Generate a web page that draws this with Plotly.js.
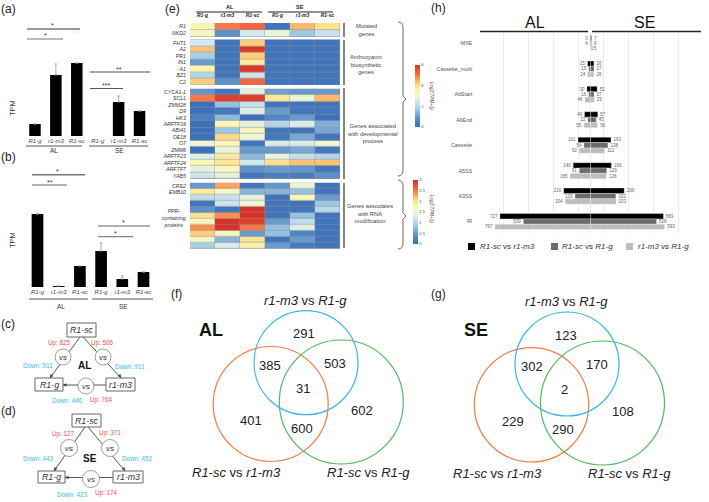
<!DOCTYPE html>
<html><head><meta charset="utf-8">
<script src="https://cdn.plot.ly/plotly-3.0.1.min.js"></script>
<style>html,body{margin:0;padding:0;background:#fff}#c{width:709px;height:502px}</style>
</head><body><div id="c"></div>
<script>
// ---------- data ----------
const barLabels = ['R1-g','r1-m3','R1-sc','R1-g','r1-m3','R1-sc'];
const tpmA = [12,61,73,null,34,25];
const errA = [null,11,null,null,6,null];
const tpmB = [73,1,21,36,8,15];
const errB = [null,null,null,8,3,null];

const heatCols = ['R1-g','r1-m3','R1-sc','R1-g','r1-m3','R1-sc'];
const rowsMut = ['R1','NKD2'];
const heatMut = [[3.4,5.0,5.2,0.2,4.4,4.0],[3.2,0.8,2.5,2.9,1.7,2.3]];
const rowsAnt = ['FHT1','A2','PR1','IN1','A1','BZ1','C2'];
const heatAnt = [[2.5,0.2,4.2,0.2,0.2,0.2],[4.3,0.2,5.9,0.2,0.2,0.2],[1.8,0.2,4.2,0.2,0.2,0.2],[1.0,0.2,3.8,0.2,0.2,0.2],[3.5,0.2,5.9,0.2,0.2,0.2],[2.0,0.2,2.4,0.2,0.2,0.2],[4.2,0.8,5.2,0.2,0.2,0.2]];
const rowsDev = ['CYCA1-1','SCL1','ZMM28','D9','HK3','ARFTF19','ABI41','OE18','O7','ZMM6','ARFTF23','ARFTF24','ARFTF7','YAB5'];
const heatDev = [[0.9,0.3,2.8,1.1,1.0,1.0],[5.0,5.8,5.8,3.8,2.9,4.4],[0.1,1.6,2.3,0.2,0.2,0.2],[0.1,0.3,2.7,1.0,0.2,0.2],[0.5,1.5,0.1,0.6,1.0,0.1],[0.1,3.4,2.8,2.0,2.6,1.3],[0.1,1.7,3.3,0.2,0.2,1.2],[0.1,4.1,2.9,0.3,1.2,0.2],[3.0,3.3,0.2,2.6,2.6,3.0],[0.1,2.9,1.0,1.0,1.2,0.3],[2.7,3.8,1.5,2.9,2.3,2.0],[3.4,3.9,2.5,4.0,4.3,4.3],[2.8,3.3,0.8,1.0,0.9,0.3],[2.4,2.8,0.2,0.5,0.4,0.8]];
const rowsRna = ['CRS2','EMB10','','','','','','','','',''];
const heatRna = [[0.5,2.3,0.1,0.45,1.45,0.1],[1.9,1.6,0.7,0.7,0.8,0.1],[1.1,1.15,1.4,0.1,1.7,0.5],[0.1,1.2,1.5,0.1,0.1,0.85],[0.4,0.1,3.0,0.1,0.1,1.05],[2.0,2.4,3.0,0.1,0.8,0.1],[1.6,3.0,2.9,0.5,1.1,0.1],[2.4,3.0,2.5,0.8,1.35,0.1],[2.1,1.6,0.5,0.8,0.3,0.1],[1.6,0.7,2.0,0.1,0.5,0.1],[0.9,1.3,1.8,0.5,0.2,0.1]];

const asTypes = ['MXE','Cassette_multi','AltStart','AltEnd','Cassette','A5SS','A3SS','IR'];
const seriesNames = ['R1-sc vs r1-m3','R1-sc vs R1-g','r1-m3 vs R1-g'];
const alScM3 = [3,25,30,49,101,140,216,727];
const alScG  = [4,15,16,22,54,91,126,539];
const alM3G  = [0,24,46,55,92,165,204,767];
const seScM3 = [7,26,52,57,163,166,269,583];
const seScG  = [6,27,27,45,138,129,202,528];
const seM3G  = [5,26,29,56,112,126,203,593];

const vennAL = [291,385,503,31,602,401,600];
const vennSE = [123,302,170,2,108,229,290];
const degAL = {scG:[825,911], scM3:[506,911], m3G:[446,764]};
const degSE = {scG:[127,443], scM3:[371,452], m3G:[423,174]};

// ---------- helpers ----------
const W=709,H=502,FONT='"Liberation Sans", Arial, sans-serif';
const X=x=>x/W, Y=y=>1-y/H;
const ann=[], shp=[];
function T(x,y,text,size,color,o){ann.push(Object.assign({x:X(x),y:Y(y),xref:'paper',yref:'paper',text:text,showarrow:false,xanchor:'center',yanchor:'middle',borderpad:0,align:'center',font:{family:FONT,size:size,color:color||'#222'}},o||{}));}
function L(x0,y0,x1,y1,c,w){shp.push({type:'line',xref:'paper',yref:'paper',x0:X(x0),y0:Y(y0),x1:X(x1),y1:Y(y1),line:{color:c,width:w}});}
function C(cx,cy,r,c,w,fill){shp.push({type:'circle',xref:'paper',yref:'paper',x0:X(cx-r),x1:X(cx+r),y0:Y(cy+r),y1:Y(cy-r),line:{color:c,width:w},fillcolor:fill||'rgba(0,0,0,0)'});}
function R(x0,y0,x1,y1,c,w,fill,below){shp.push({type:'rect',xref:'paper',yref:'paper',x0:X(x0),x1:X(x1),y0:Y(y1),y1:Y(y0),line:{color:c,width:w},fillcolor:fill,layer:below?'below':'above'});}
function Arrow(x0,y0,x1,y1,c){ann.push({x:X(x1),y:Y(y1),xref:'paper',yref:'paper',ax:x0-x1,ay:y0-y1,text:'',showarrow:true,arrowhead:2,arrowsize:0.7,arrowwidth:1,arrowcolor:c});}
function Brace(top,mid,bottom){const p=(x,y)=>X(x)+','+Y(y);
 shp.push({type:'path',xref:'paper',yref:'paper',line:{color:'#444',width:0.8},
 path:'M'+p(398,top)+' Q'+p(403,top)+' '+p(403,top+6)+' L'+p(403,mid-3)+' L'+p(406,mid)+' L'+p(403,mid+3)+' L'+p(403,bottom-6)+' Q'+p(403,bottom)+' '+p(398,bottom)});}
const it=s=>'<i>'+s+'</i>';
const layout={width:W,height:H,margin:{l:0,r:0,t:0,b:0,pad:0},paper_bgcolor:'#fff',plot_bgcolor:'rgba(0,0,0,0)',showlegend:false,barmode:'overlay',font:{family:FONT}};
const data=[];

// ---------- bars (a), (b) ----------
function barPanel(id,x0,x1,yTop,yBase,vals,errs,maxV){
 const xn='xaxis'+id,yn='yaxis'+id;
 layout[xn]={domain:[X(x0),X(x1)],range:[-0.5,5.5],anchor:'y'+id,tickvals:[0,1,2,3,4,5],ticktext:barLabels.map(it),tickfont:{size:6,color:'#444'},ticks:'',showgrid:false,zeroline:false,showline:false,fixedrange:true};
 layout[yn]={domain:[Y(yBase),Y(yTop)],range:[0,maxV],anchor:'x'+id,visible:false,fixedrange:true};
 data.push({type:'bar',x:[0,1,2,3,4,5],y:vals,width:0.55,marker:{color:'#000'},xaxis:'x'+id,yaxis:'y'+id,error_y:{type:'data',array:errs,symmetric:false,visible:true,color:'#999',thickness:0.8,width:1.5}});
}
barPanel('',24.5,150,56,136,tpmA,errA,80);
barPanel('2',26.9,154.1,207,287,tpmB,errB,80);
layout.xaxis.anchor='y';layout.yaxis.anchor='x';

// significance and group lines
[[27,80,29,'#777',1.5],[27,63,39,'#777',1.2],[90,150,72,'#555',1],[90,123,88.5,'#555',1],[32,85,174.7,'#777',1.5],[32,67,185,'#666',1.2],[98,150,226,'#666',1],[98,133,236.7,'#666',1],[26,82,146,'#444',0.9],[89,148,146,'#444',0.9],[29,88,299,'#444',0.9],[92,153,299,'#444',0.9]].forEach(a=>L(a[0],a[2],a[1],a[2],a[3],a[4]));
[[53,25.5,'*'],[45,35.5,'*'],[119,69.5,'**'],[106,85.5,'***'],[57,171.5,'*'],[49.5,182.5,'**'],[123.5,222.5,'*'],[115.5,233.5,'*']].forEach(a=>T(a[0],a[1],a[2],7,'#333'));
L(74,32,79,32,'#ccc',0.7);
T(54,151,'AL',6.5,'#333');T(120,151,'SE',6.5,'#333');T(61,306,'AL',6.5,'#333');T(123,306,'SE',6.5,'#333');
T(12,108,'TPM',7.5,'#333',{textangle:-90});T(12,240,'TPM',7.5,'#333',{textangle:-90});
[['(a)',8,9],['(b)',8,157],['(c)',8,324],['(d)',8,411],['(e)',172,9],['(f)',176,294],['(g)',438,294],['(h)',438,8]].forEach(a=>T(a[1],a[2],a[0],12,'#222'));

// ---------- networks (c), (d) ----------
function network(o,deg,name){
 const red='#f0504f',blue='#3db8ef',line='#444',box='#666';
 L(o.sc[0],o.sc[1],o.g[0],o.g[1],line,0.9);L(o.sc2[0],o.sc2[1],o.m[0],o.m[1],line,0.9);L(o.mL[0],o.mL[1],o.gR[0],o.gR[1],line,0.9);
 o.vs.forEach(v=>{C(v[0],v[1],o.r,'#777',0.7,'#fff');T(v[0],v[1],it('vs'),8,'#333');});
 R(o.bSc[0],o.bSc[1],o.bSc[2],o.bSc[3],box,1,'#fff');R(o.bG[0],o.bG[1],o.bG[2],o.bG[3],box,1,'#fff');R(o.bM[0],o.bM[1],o.bM[2],o.bM[3],box,1,'#fff');
 T((o.bSc[0]+o.bSc[2])/2,(o.bSc[1]+o.bSc[3])/2,it('R1-sc'),8.8,'#333');
 T((o.bG[0]+o.bG[2])/2,(o.bG[1]+o.bG[3])/2,it('R1-g'),8.8,'#333');
 T((o.bM[0]+o.bM[2])/2,(o.bM[1]+o.bM[3])/2,it('r1-m3'),8.8,'#333');
 Arrow(o.g[0]+3,o.g[1]-5,o.g[0],o.g[1],line);Arrow(o.m[0]-3,o.m[1]-5,o.m[0],o.m[1],line);Arrow(o.gR[0]+5,o.gR[1],o.gR[0],o.gR[1],line);
 T(o.t[0][0],o.t[0][1],'Up: '+deg.scG[0],6.3,red);T(o.t[1][0],o.t[1][1],'Up: '+deg.scM3[0],6.3,red);
 T(o.t[2][0],o.t[2][1],'Down: '+deg.scG[1],6.3,blue);T(o.t[3][0],o.t[3][1],'Down: '+deg.scM3[1],6.3,blue);
 T(o.t[4][0],o.t[4][1],'Down: '+deg.m3G[0],6.3,blue);T(o.t[5][0],o.t[5][1],'Up: '+deg.m3G[1],6.3,red);
 T(o.t[6][0],o.t[6][1],'<b>'+name+'</b>',10,'#111');
}
network({sc:[80,337],sc2:[83,337],g:[50,378],m:[121,378],mL:[106,385],gR:[63,385],vs:[[63,357],[103,357],[86,386]],r:8,
 bSc:[67,323,96,337],bG:[35,378,63,391],bM:[106,378,135,391],
 t:[[59,343],[102,343],[38,365],[130,366],[67,400],[101,400],[84,365]]},degAL,'AL');
network({sc:[85,427],sc2:[88,427],g:[54,471],m:[125,471],mL:[113,477.5],gR:[65,477.5],vs:[[69,448],[110,448],[91,479]],r:8.5,
 bSc:[72,414,101,427],bG:[38,471,65,483],bM:[113,471,143,483],
 t:[[63,434],[110,433],[38,458],[137,458],[72,494],[107,493],[90,458]]},degSE,'SE');

// ---------- heatmap (e) ----------
const rdyl=[[0,'#3b6cb7'],[0.08,'#4a7fbf'],[0.17,'#6a9bcc'],[0.3,'#a5cfe4'],[0.42,'#d5e9ef'],[0.5,'#f0f7d0'],[0.58,'#fdf6ae'],[0.67,'#fee090'],[0.75,'#fdae61'],[0.85,'#f46d43'],[1,'#d73027']];
function heat(id,rows,z,top,bottom,zmax,cb){
 layout['xaxis'+id]={domain:[X(190),X(340)],range:[-0.5,5.5],anchor:'y'+id,visible:false,fixedrange:true};
 layout['yaxis'+id]={domain:[Y(bottom),Y(top)],range:[rows.length-0.5,-0.5],anchor:'x'+id,tickvals:rows.map((r,i)=>i),ticktext:rows.map(it),tickfont:{size:5.2,color:'#333'},ticks:'outside',ticklen:2,tickcolor:'rgba(0,0,0,0)',showgrid:false,zeroline:false,showline:false,fixedrange:true};
 R(190,top,340,bottom,'rgba(0,0,0,0)',0,'#8c93a0',true);
 const t={type:'heatmap',z:z,x:[0,1,2,3,4,5],y:rows.map((r,i)=>i),xaxis:'x'+id,yaxis:'y'+id,zmin:0,zmax:zmax,colorscale:rdyl,xgap:0.4,ygap:0.5,showscale:!!cb};
 if(cb)t.colorbar=cb;
 data.push(t);
}
const cbBase=(x,top,len,vals)=>({x:X(x),xanchor:'left',xref:'paper',y:Y(top),yanchor:'top',yref:'paper',len:len,lenmode:'pixels',thickness:5,thicknessmode:'pixels',outlinewidth:0,xpad:0,ypad:0,tickvals:vals,ticktext:vals.map(String),ticks:'',ticklabelposition:'outside',tickfont:{size:4,color:'#444',family:FONT}});
heat('3',rowsMut,heatMut,23,37,6,cbBase(415,65,62,[0,2,4,6]));
heat('4',rowsAnt,heatAnt,39.5,85,6);
heat('5',rowsDev,heatDev,88.7,179,6);
heat('6',rowsRna,heatRna,182.7,248.7,3,cbBase(413,180,64,[0,0.5,1,1.5,2,2.5,3]));
// column headers from a top axis on the first block
layout.xaxis3={domain:[X(190),X(340)],range:[-0.5,5.5],anchor:'y3',side:'top',tickvals:[0,1,2,3,4,5],ticktext:heatCols.map(s=>'<b><i>'+s+'</i></b>'),tickfont:{size:5,color:'#222'},ticks:'outside',ticklen:3,tickcolor:'rgba(0,0,0,0)',showgrid:false,zeroline:false,showline:false,fixedrange:true};
T(230,7,'<b>AL</b>',5.5,'#222');T(300,7,'<b>SE</b>',5.5,'#222');
L(196,12,262,12,'#222',1);L(268,12,333,12,'#222',1);
T(187,217.5,it('PPR-<br>containing<br>proteins'),5.2,'#333',{xanchor:'right'});
[[23,37],[40,85],[88,179],[183,248]].forEach(a=>L(344,a[0],344,a[1],'#333',1.2));
T(366,30,'Mutated<br>genes',5.8,'#444');
T(366,64,'Anthocyanin<br>biosynthetic<br>genes',5.8,'#444');
T(372,133,'Genes associated<br>with developmental<br>process',5.8,'#444');
T(370,213,'Genes associates<br>with RNA<br>modification',5.8,'#444');
Brace(22,99,176);Brace(180,216,249);
T(432,96,it('Log2(TPM+1)'),4.5,'#444',{textangle:90});
T(432,209,it('Log2(TPM+1)'),4.5,'#444',{textangle:90});

// ---------- splicing bars (h) ----------
layout.xaxis7={domain:[X(478.3),X(703)],range:[-900,900],anchor:'y7',tickvals:[-900,-700,-500,-300,-100,0,100,300,500,700,900],showticklabels:false,ticks:'',showgrid:true,gridcolor:'#e4e4e4',gridwidth:0.7,zeroline:false,showline:false,fixedrange:true};
layout.yaxis7={domain:[Y(233),Y(33)],range:[7.45,-0.413],anchor:'x7',tickvals:asTypes.map((t,i)=>i),ticktext:asTypes,tickfont:{size:5.4,color:'#555'},ticks:'outside',ticklen:4,tickcolor:'rgba(0,0,0,0)',showgrid:false,zeroline:false,showline:false,fixedrange:true};
const hCols=['#000000','#6e6a6a','#bdbdbd'];
const PAD='\u00a0\u00a0';
[[alScM3,seScM3],[alScG,seScG],[alM3G,seM3G]].forEach((pair,k)=>{
 [-1,1].forEach((sign,j)=>{
  data.push({type:'bar',orientation:'h',x:pair[j].map(v=>sign*v),y:asTypes.map((t,i)=>i),width:0.21,offset:-0.315+0.21*k,marker:{color:hCols[k],line:{color:'#fff',width:0.3}},text:pair[j].map(v=>sign<0?v+PAD:PAD+v),textposition:'outside',textangle:0,constraintext:'none',cliponaxis:false,textfont:{size:4.5,color:'#666',family:FONT},xaxis:'x7',yaxis:'y7',name:seriesNames[k]});
 });
});
T(535,23,'AL',16,'#111');T(644,23,'SE',16,'#111');
L(480,31.5,588,31.5,'#222',1.3);L(592,31.5,701,31.5,'#222',1.3);
// legend keys
[[468,479],[551,561],[626,637]].forEach((p,k)=>{
 R(p[0],243,p[0]+7,250,'rgba(0,0,0,0)',0,hCols[k]);
 const parts=seriesNames[k].split(' vs ');
 T(p[1],246.5,it(parts[0])+' vs '+it(parts[1]),8,'#333',{xanchor:'left'});
});

// ---------- Venn (f), (g) ----------
const vOrange='#f47a3f',vBlue='#3cb4ea',vGreen='#4cbb5d';
function venn(cs,vals,pos,tit,name,namePos){
 C(cs[0][0],cs[0][1],cs[0][2],vOrange,1.2);C(cs[1][0],cs[1][1],cs[1][2],vBlue,1.2);C(cs[2][0],cs[2][1],cs[2][2],vGreen,1.2);
 vals.forEach((v,i)=>T(pos[i][0],pos[i][1],String(v),13,'#222'));
 T(tit[0][0],tit[0][1],it('r1-m3')+' vs '+it('R1-g'),13,'#222');
 T(tit[1][0],tit[1][1],it('R1-sc')+' vs '+it('r1-m3'),13,'#222');
 T(tit[2][0],tit[2][1],it('R1-sc')+' vs '+it('R1-g'),13,'#222');
 T(namePos[0],namePos[1],'<b>'+name+'</b>',18,'#111');
}
venn([[270.7,404,57.5],[306,362.7,52],[341.3,402,62]],vennAL,
 [[304.3,333.3],[270.3,365.3],[335.3,363.3],[303,388.3],[361.7,410.7],[251.3,420],[302,428]],
 [[305.7,300.7],[236.7,472.7],[368.3,472.7]],'AL',[211,330]);
venn([[531.5,404.8,57.2],[567,364,52],[602.5,403,62]],vennSE,
 [[566,335],[531.7,366],[596.7,364.7],[564.7,389.3],[623.3,411.7],[512.7,421.3],[563.3,429.3]],
 [[566.7,301.3],[497.3,473.7],[629,473.7]],'SE',[476,330]);

layout.annotations=ann;layout.shapes=shp;
Plotly.newPlot('c',data,layout,{displayModeBar:false,staticPlot:true});
</script></body></html>
